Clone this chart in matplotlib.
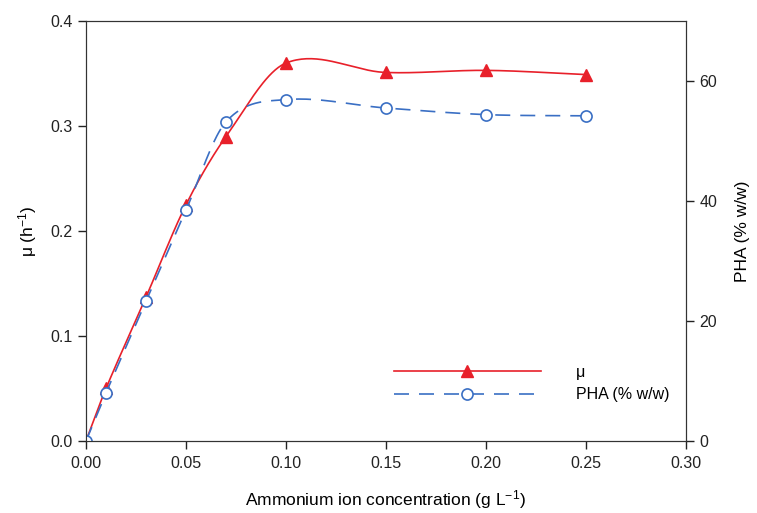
import matplotlib
matplotlib.use("Agg")
import matplotlib.pyplot as plt
import numpy as np

plt.rcParams["font.family"] = ["Liberation Sans", "DejaVu Sans"]
plt.rcParams["mathtext.default"] = "regular"

ammonium = [0.0, 0.01, 0.03, 0.05, 0.07, 0.10, 0.15, 0.20, 0.25]
mu = [0.0, 0.050, 0.137, 0.225, 0.290, 0.360, 0.351, 0.353, 0.349]
pha = [0.0, 8.0, 23.3, 38.5, 53.2, 56.9, 55.5, 54.4, 54.2]


def smooth_curve(x, y, n=40):
    # Catmull-Rom style curve through the points, like the original plotting program
    x = np.asarray(x, float)
    y = np.asarray(y, float)
    m = np.empty_like(y)
    m[1:-1] = (y[2:] - y[:-2]) / (x[2:] - x[:-2])
    m[0] = (y[1] - y[0]) / (x[1] - x[0])
    m[-1] = (y[-1] - y[-2]) / (x[-1] - x[-2])
    xs_all, ys_all = [], []
    for i in range(len(x) - 1):
        h = x[i + 1] - x[i]
        t = np.linspace(0, 1, n)
        h00 = 2 * t ** 3 - 3 * t ** 2 + 1
        h10 = t ** 3 - 2 * t ** 2 + t
        h01 = -2 * t ** 3 + 3 * t ** 2
        h11 = t ** 3 - t ** 2
        xs_all.append(x[i] + t * h)
        ys_all.append(h00 * y[i] + h10 * h * m[i] + h01 * y[i + 1] + h11 * h * m[i + 1])
    return np.concatenate(xs_all), np.concatenate(ys_all)


red = "#e8202a"
blue = "#3a6fc4"

fig = plt.figure(figsize=(7.57, 5.13), dpi=100)
ax = fig.add_axes([0.1136, 0.1404, 0.7926, 0.8186])
ax2 = ax.twinx()

xs, ys = smooth_curve(ammonium, mu)
ax.plot(xs, ys, color=red, lw=1.2, zorder=2)
ax.plot(ammonium, mu, "^", color=red, ms=8, zorder=3)

xs, ys = smooth_curve(ammonium, pha)
ax2.plot(xs, ys, color=blue, lw=1.2, dashes=(9, 6))
ax2.plot(ammonium, pha, "o", color=blue, mfc="white", mew=1.2, ms=8)

ax.set_xlim(0, 0.30)
ax.set_ylim(0, 0.4)
ax2.set_ylim(0, 70)
ax.set_xticks([0.0, 0.05, 0.10, 0.15, 0.20, 0.25, 0.30])
ax.set_xticklabels(["0.00", "0.05", "0.10", "0.15", "0.20", "0.25", "0.30"])
ax.set_yticks([0.0, 0.1, 0.2, 0.3, 0.4])
ax2.set_yticks([0, 20, 40, 60])

for a in (ax, ax2):
    a.tick_params(direction="out", length=6, width=1, labelsize=11.5, colors="#222222")
    for s in a.spines.values():
        s.set_color("#333333")
ax.tick_params(axis="x", pad=5)

ax.set_xlabel("Ammonium ion concentration (g L$^{-1}$)", fontsize=12.5, labelpad=12)
ax.set_ylabel("μ (h$^{-1}$)", fontsize=12.5, labelpad=8)
ax2.set_ylabel("PHA (% w/w)", fontsize=12.5, labelpad=13)

h1 = plt.Line2D([], [], color=red, lw=1.2, marker="^", ms=8)
h2 = plt.Line2D([], [], color=blue, lw=1.2, dashes=(9, 6), marker="o", mfc="white", mew=1.2, ms=8)
ax2.legend([h1, h2], ["μ", "PHA (% w/w)"], loc="upper left", bbox_to_anchor=(0.5, 0.2),
           frameon=False, fontsize=11.5, handlelength=9.2, handletextpad=2.2,
           numpoints=1, borderpad=0, labelspacing=0.45)

fig.savefig("out.png", dpi=100)
